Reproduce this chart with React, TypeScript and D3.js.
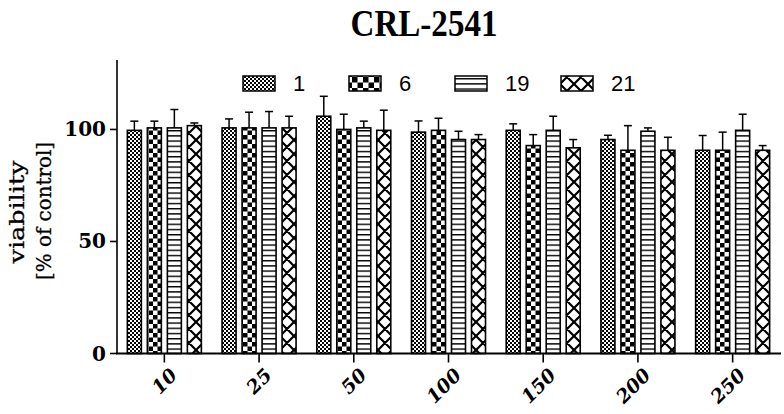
import React from "react";
import * as d3 from "d3";

const categories = ["10", "25", "50", "100", "150", "200", "250"];
const seriesNames = ["1", "6", "19", "21"];
const values1 = [99.6, 100.7, 105.9, 98.8, 99.6, 95.5, 90.7];
const errors1 = [4.1, 4.0, 8.9, 5.0, 2.9, 1.9, 6.6];
const values6 = [100.7, 100.7, 100.0, 99.6, 92.8, 90.7, 90.7];
const errors6 = [3.0, 7.0, 6.8, 5.4, 4.9, 11.0, 8.1];
const values19 = [100.7, 100.7, 100.7, 95.5, 99.6, 99.2, 99.6];
const errors19 = [8.2, 7.3, 3.0, 3.7, 6.3, 1.5, 7.2];
const values21 = [101.7, 100.7, 99.6, 95.5, 91.8, 90.7, 90.7];
const errors21 = [1.2, 5.2, 9.0, 2.2, 3.7, 5.8, 2.1];
const yTicks = [0, 50, 100];

const seriesValues = [values1, values6, values19, values21];
const seriesErrors = [errors1, errors6, errors19, errors21];
const patternIds = ["pFine", "pCheck", "pLines", "pCross"];
const legendPatternIds = ["pFine", "pCheckL", "pLines", "pCross"];

export default function App() {
  const W = 784, H = 414;
  const x0 = d3.scaleBand<string>().domain(categories).range([117, 780]).padding(0);
  const x1 = d3.scaleBand<string>().domain(seriesNames).range([-37, 37]).paddingInner(0.3).paddingOuter(0);
  const y = d3.scaleLinear().domain([0, 131]).range([353.5, 60]);
  const serif = "'DejaVu Serif', serif";

  return (
    <svg width={W} height={H} style={{ position: "absolute", left: 0, top: 0, background: "#fff" }}>
      <defs>
        <pattern id="pFine" patternUnits="userSpaceOnUse" width={4} height={4}>
          <rect width={4} height={4} fill="#fff" />
          <rect x={0} y={0} width={2} height={2} fill="#000" />
          <rect x={2} y={2} width={2} height={2} fill="#000" />
        </pattern>
        <pattern id="pCheck" patternUnits="userSpaceOnUse" width={9} height={9}>
          <rect width={9} height={9} fill="#fff" />
          <rect x={0} y={0} width={4.5} height={4.5} fill="#000" />
          <rect x={4.5} y={4.5} width={4.5} height={4.5} fill="#000" />
        </pattern>
        <pattern id="pCheckL" patternUnits="userSpaceOnUse" width={11} height={11}>
          <rect width={11} height={11} fill="#fff" />
          <rect x={0} y={0} width={5.5} height={5.5} fill="#000" />
          <rect x={5.5} y={5.5} width={5.5} height={5.5} fill="#000" />
        </pattern>
        <pattern id="pLines" patternUnits="userSpaceOnUse" width={10} height={5.2}>
          <rect width={10} height={5.2} fill="#fff" />
          <rect x={0} y={0} width={10} height={1.4} fill="#000" />
        </pattern>
        <pattern id="pCross" patternUnits="userSpaceOnUse" width={14} height={14}>
          <rect width={14} height={14} fill="#fff" />
          <path d="M0,0 L14,14 M14,0 L0,14 M-2,12 L2,16 M12,-2 L16,2 M-2,2 L2,-2 M12,16 L16,12" stroke="#000" strokeWidth={2.2} />
        </pattern>
      </defs>

      <text x={424} y={36} textAnchor="middle" fontFamily="'Liberation Serif', serif" fontWeight="bold" fontSize={37} textLength={147} lengthAdjust="spacingAndGlyphs">CRL-2541</text>

      {/* Y axis label */}
      <g transform="translate(24,212) rotate(-90)">
        <text x={0} y={0} textAnchor="middle" fontFamily={serif} fontSize={21} fill="#000" stroke="#000" strokeWidth={0.3} textLength={103} lengthAdjust="spacingAndGlyphs">viability</text>
      </g>
      <g transform="translate(51,211) rotate(-90)">
        <text x={0} y={0} textAnchor="middle" fontFamily={serif} fontSize={21} fill="#000" stroke="#000" strokeWidth={0.3} textLength={138} lengthAdjust="spacingAndGlyphs">[% of control]</text>
      </g>

      {/* Bars */}
      {categories.map((c, ci) => (
        <g key={c}>
          {seriesNames.map((s, si) => {
            const cx = (x0(c) as number) + x0.bandwidth() / 2;
            const bx = cx + (x1(s) as number);
            const bw = x1.bandwidth();
            const v = seriesValues[si][ci];
            const e = seriesErrors[si][ci];
            const mid = bx + bw / 2;
            return (
              <g key={s}>
                <line x1={mid} x2={mid} y1={y(v)} y2={y(v + e)} stroke="#000" strokeWidth={1.5} />
                <line x1={mid - 4} x2={mid + 4} y1={y(v + e)} y2={y(v + e)} stroke="#000" strokeWidth={1.5} />
                <rect x={bx} y={y(v)} width={bw} height={y(0) - y(v)} fill={`url(#${patternIds[si]})`} stroke="#000" strokeWidth={1.6} />
              </g>
            );
          })}
        </g>
      ))}

      {/* Y axis */}
      <line x1={117} x2={117} y1={60} y2={y(0)} stroke="#000" strokeWidth={1.6} />
      {yTicks.map((t) => (
        <g key={t}>
          <line x1={110} x2={117} y1={y(t)} y2={y(t)} stroke="#000" strokeWidth={1.6} />
          <text x={106} y={y(t) + 7} textAnchor="end" fontFamily={serif} fontWeight="bold" fontSize={20}>{t}</text>
        </g>
      ))}

      {/* X axis */}
      <line x1={116} x2={781} y1={y(0)} y2={y(0)} stroke="#000" strokeWidth={1.8} />
      {categories.map((c) => {
        const cx = (x0(c) as number) + x0.bandwidth() / 2;
        return (
          <g key={c}>
            <line x1={cx} x2={cx} y1={y(0)} y2={y(0) + 9} stroke="#000" strokeWidth={1.6} />
            <g transform={`translate(${cx + 14},${y(0) + 23}) rotate(-45)`}>
              <text x={0} y={0} textAnchor="end" fontFamily={serif} fontWeight="bold" fontStyle="italic" fontSize={19}>{c}</text>
            </g>
          </g>
        );
      })}

      {/* Legend */}
      {seriesNames.map((s, si) => {
        const lx = 243 + si * 106;
        return (
          <g key={s}>
            <rect x={lx} y={76} width={32} height={15} fill={`url(#${legendPatternIds[si]})`} stroke="#000" strokeWidth={1.5} />
            <text x={lx + 50} y={91} fontFamily="'Liberation Sans', Arial, sans-serif" fontSize={22}>{s}</text>
          </g>
        );
      })}
    </svg>
  );
}
